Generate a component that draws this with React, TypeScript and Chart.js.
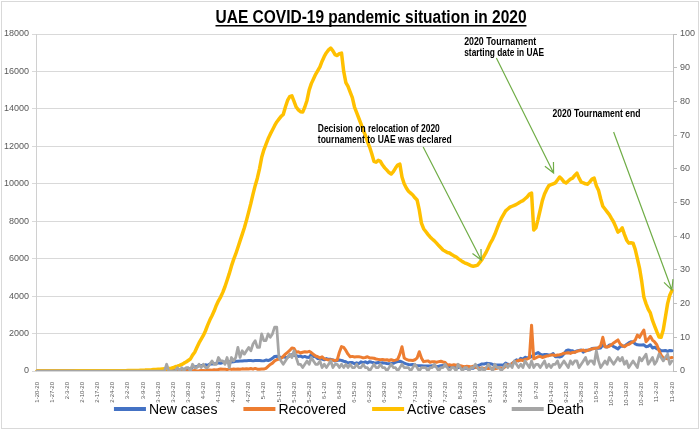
import React, { useEffect, useRef } from "react";
import { Chart, registerables } from "chart.js";

Chart.register(...registerables);

const TITLE = "UAE COVID-19 pandemic situation in 2020";
const SERIES_NAMES = ["New cases", "Recovered", "Active cases", "Death"];
const SERIES_COLORS = ["#4472C4", "#ED7D31", "#FFC000", "#A5A5A5"];

// daily categories, 1-20-20 .. 11-9-20
const START_DAY = [2020, 0, 20];
const DAY_COUNT = 295;
const categories: string[] = [];
for (let i = 0; i < DAY_COUNT; i++) {
  const d = new Date(START_DAY[0], START_DAY[1], START_DAY[2] + i);
  categories.push(`${d.getMonth() + 1}-${d.getDate()}-20`);
}

const newCases = [
  0, 0, 0, 0, 0, 0, 0, 0, 0, 4,
  0, 0, 0, 1, 0, 0, 0, 0, 2, 0,
  0, 1, 0, 0, 0, 0, 0, 0, 0, 0,
  0, 0, 0, 0, 0, 4, 1, 0, 0, 4,
  0, 2, 2, 0, 6, 0, 2, 1, 15, 0,
  5, 10, 0, 11, 15, 0, 13, 15, 15, 27,
  27, 13, 45, 45, 50, 85, 50, 72, 102, 100,
  150, 53, 240, 210, 241, 277, 300, 283, 331, 300,
  370, 376, 387, 398, 432, 412, 445, 479, 484, 490,
  477, 490, 518, 525, 536, 539, 550, 552, 560, 557,
  540, 561, 557, 564, 550, 541, 584, 557, 602, 680,
  781, 783, 781, 698, 760, 725, 731, 812, 873, 832,
  822, 779, 796, 741, 779, 730, 724, 883, 779, 760,
  660, 685, 638, 596, 661, 624, 623, 594, 528, 563,
  582, 568, 521, 492, 430, 458, 451, 392, 440, 388,
  490, 450, 489, 430, 500, 470, 445, 432, 454, 430,
  440, 420, 399, 389, 397, 410, 470, 500, 520, 480,
  420, 380, 350, 333, 350, 303, 277, 285, 282, 265,
  270, 266, 264, 275, 271, 237, 254, 282, 292, 282,
  230, 254, 219, 209, 179, 180, 220, 150, 152, 140,
  145, 160, 150, 220, 283, 321, 379, 375, 410, 400,
  390, 350, 325, 320, 320, 315, 310, 420, 360, 330,
  400, 500, 595, 540, 680, 630, 735, 692, 735, 760,
  883, 930, 985, 900, 850, 880, 880, 850, 870, 930,
  760, 770, 750, 780, 920, 1080, 1120, 1100, 1083, 1007,
  1076, 1100, 1120, 1005, 1105, 1110, 1115, 1200, 1210, 1220,
  1210, 1230, 1390, 1300, 1280, 1390, 1400, 1300, 1250, 1180,
  1300, 1340, 1320, 1420, 1500, 1560, 1550, 1450, 1400, 1390,
  1390, 1400, 1300, 1320, 1400, 1230, 1270, 1190, 1160, 1080,
  1080, 1100, 1050, 1100, 1080,
];

const recovered = [
  0, 0, 0, 0, 0, 0, 0, 0, 0, 0,
  0, 0, 0, 0, 0, 0, 0, 0, 0, 0,
  0, 0, 1, 0, 0, 0, 0, 1, 0, 0,
  0, 0, 0, 0, 0, 0, 0, 0, 0, 0,
  0, 0, 0, 0, 0, 2, 0, 0, 0, 0,
  0, 0, 2, 0, 5, 0, 0, 0, 3, 0,
  0, 2, 3, 7, 0, 5, 0, 3, 5, 14,
  0, 3, 15, 30, 0, 10, 25, 32, 15, 38,
  50, 39, 64, 52, 78, 110, 89, 100, 67, 120,
  86, 107, 99, 109, 90, 114, 105, 120, 110, 130,
  100, 140, 95, 90, 112, 110, 140, 250, 350, 420,
  540, 600, 640, 680, 780, 900, 1000, 1100, 1230, 1200,
  1000, 1030, 960, 1000, 1030, 1010, 1050, 980, 890, 800,
  760, 700, 760, 650, 620, 590, 600, 580, 560, 590,
  1000, 1300, 1260, 1100, 900, 760, 780, 750, 760, 760,
  740, 700, 720, 760, 700, 690, 680, 640, 620, 600,
  620, 590, 600, 560, 600, 560, 580, 620, 900, 1300,
  700, 620, 580, 570, 560, 600, 700, 1030, 700, 500,
  520, 540, 470, 500, 490, 470, 500, 520, 480, 450,
  320, 330, 300, 340, 310, 330, 280, 250, 230, 250,
  240, 220, 260, 200, 170, 140, 160, 140, 150, 130,
  140, 150, 120, 140, 180, 150, 160, 250, 330, 300,
  400, 480, 530, 560, 590, 560, 620, 640, 700, 2450,
  650, 700, 760, 780, 720, 760, 800, 820, 850, 860,
  830, 850, 870, 900, 950, 960, 980, 940, 990, 1000,
  1050, 1080, 1100, 1120, 1060, 1100, 1150, 1180, 1200, 1210,
  1250, 1350, 1800, 1300, 1280, 1320, 1400, 1500, 1580, 1660,
  1450, 1350, 1300, 1380, 1420, 1500, 1550, 1650, 1920, 1800,
  2000, 2190, 1560, 1700, 1850, 1650, 1550, 1400, 1100, 850,
  700, 680, 650, 700, 720,
];

const activeCases = [
  0, 0, 0, 0, 0, 0, 0, 0, 0, 4,
  4, 4, 4, 5, 5, 5, 5, 5, 7, 7,
  7, 7, 8, 8, 8, 8, 8, 8, 8, 8,
  9, 9, 9, 9, 9, 12, 13, 13, 13, 17,
  17, 19, 21, 21, 27, 27, 29, 30, 45, 45,
  50, 60, 60, 70, 85, 85, 90, 95, 110, 115,
  120, 140, 150, 170, 230, 260, 300, 350, 420, 480,
  560, 640, 850, 1000, 1250, 1500, 1700, 1900, 2150, 2450,
  2720, 2950, 3200, 3500, 3750, 3950, 4200, 4500, 4850, 5200,
  5600, 5950, 6250, 6600, 6950, 7300, 7650, 8060, 8500, 8950,
  9450, 9900, 10300, 10800, 11400, 11800, 12100, 12400, 12650, 12870,
  13100, 13300, 13450, 13600, 13700, 14100, 14450, 14650, 14700, 14400,
  14100, 13950, 13850, 13830, 14100, 14450, 15000, 15350, 15600, 15850,
  16050, 16250, 16550, 16800, 17000, 17150, 17250, 17100, 16900, 16850,
  16950, 16980, 16000, 15400, 15200, 14900, 14600, 14100, 13800, 13500,
  13200, 12870, 12600, 12250, 11960, 11600, 11200, 11150, 11250, 11200,
  11000, 10850, 10730, 10600, 10520, 10650, 10840, 11000, 11050, 10360,
  10000, 9770, 9600, 9500, 9400, 9250, 9130, 8600, 7900, 7600,
  7450, 7300, 7160, 7050, 6950, 6830, 6700, 6580, 6460, 6400,
  6330, 6300, 6220, 6150, 6100, 6000, 5920, 5840, 5780, 5730,
  5680, 5620, 5600, 5620, 5660, 5800, 5950, 6150, 6350, 6600,
  6850, 7050, 7300, 7600, 7900, 8150, 8350, 8550, 8650, 8750,
  8800, 8850, 8900, 8970, 9050, 9100, 9200, 9300, 9450, 9500,
  7530, 7650, 8100, 8600, 9100, 9450, 9700, 9900, 9950, 10000,
  10050, 10200, 10360, 10250, 10100, 10040, 10150, 10250, 10300, 10450,
  10570, 10300, 10090, 10050, 10000, 9980, 10100, 10250, 10300, 9900,
  9660, 9200, 8800, 8650, 8500, 8350, 8150, 7960, 7700, 7420,
  7500, 7640, 7300, 7000, 6830, 6850, 6830, 6500, 6000, 5500,
  4800, 3950, 3600, 3300, 3100, 2700, 2400, 2100, 1820, 1800,
  2200, 2900, 3600, 4050, 4300,
];

const deaths = [
  0, 0, 0, 0, 0, 0, 0, 0, 0, 0,
  0, 0, 0, 0, 0, 0, 0, 0, 0, 0,
  0, 0, 0, 0, 0, 0, 0, 0, 0, 0,
  0, 0, 0, 0, 0, 0, 0, 0, 0, 0,
  0, 0, 0, 0, 0, 0, 0, 0, 0, 0,
  0, 0, 0, 0, 0, 0, 0, 0, 0, 0,
  2, 0, 0, 0, 0, 1, 0, 1, 0, 1,
  1, 0, 2, 1, 1, 2, 1, 2, 1, 1,
  2, 3, 2, 2, 4, 3, 3, 2, 4, 1,
  4, 3, 4, 7, 4, 6, 5, 6, 7, 6,
  8, 9, 7, 7, 11, 9, 9, 11, 10, 11,
  13, 13, 4, 3, 2, 3, 4, 5, 4, 6,
  4, 2, 2, 1, 2, 3, 2, 4, 3, 2,
  2, 3, 1, 2, 1, 2, 3, 1, 2, 2,
  1, 2, 1, 2, 1, 2, 1, 1, 2, 1,
  1, 2, 1, 1, 0, 1, 2, 1, 1, 2,
  1, 1, 0, 1, 2, 1, 1, 0, 1, 2,
  1, 1, 1, 0, 1, 2, 1, 0, 1, 1,
  1, 0, 1, 1, 2, 1, 0, 1, 1, 2,
  1, 0, 1, 1, 0, 2, 1, 0, 1, 1,
  0, 1, 1, 2, 1, 0, 1, 0, 1, 2,
  1, 0, 2, 1, 1, 0, 1, 2, 1, 2,
  1, 3, 2, 1, 2, 1, 3, 2, 1, 3,
  1, 2, 2, 1, 2, 3, 1, 2, 1, 2,
  2, 3, 1, 2, 3, 2, 1, 3, 2, 3,
  3, 1, 2, 3, 4, 2, 3, 3, 2, 6,
  3, 1, 2, 3, 2, 4, 3, 2, 3, 4,
  3, 4, 2, 3, 1, 2, 3, 2, 1, 4,
  3, 4, 5, 2, 3, 4, 2, 3, 5, 4,
  3, 4, 5, 2, 3,
];

// annotations in data coordinates (category index, left-axis value)
const annotations = [
  {
    lines: ["Decision on relocation of 2020", "tournament to UAE was declared"],
    widths: [122, 134],
    textAt: [130, 12923],
    from: [178.8, 11962],
    to: [205.7, 5927],
  },
  {
    lines: ["2020 Tournament", "starting date in UAE"],
    widths: [72, 80],
    textAt: [197.8, 17569],
    from: [212.7, 16714],
    to: [239.2, 10573],
  },
  {
    lines: ["2020 Tournament end"],
    widths: [88],
    textAt: [238.7, 13724],
    from: [267.0, 12763],
    to: [294.0, 4325],
  },
];

const FONT = "'Liberation Sans', Arial, sans-serif";

const overlayPlugin = {
  id: "overlay",
  beforeDraw(chart: any) {
    const { ctx, width, height } = chart;
    ctx.save();
    ctx.fillStyle = "#ffffff";
    ctx.fillRect(0, 0, width, height);
    ctx.restore();
  },
  afterDraw(chart: any) {
    const { ctx } = chart;
    const xs = chart.scales.x;
    const ys = chart.scales.y;
    ctx.save();
    // outer border
    ctx.strokeStyle = "#D9D9D9";
    ctx.lineWidth = 1;
    ctx.strokeRect(1.5, 1.5, 697, 427);

    // title
    ctx.fillStyle = "#000000";
    ctx.font = `bold 18px ${FONT}`;
    ctx.textAlign = "center";
    ctx.textBaseline = "alphabetic";
    const titleW = 311;
    const tcx = 371;
    ctx.fillText(TITLE, tcx, 23, titleW);
    ctx.fillRect(tcx - titleW / 2, 25, titleW, 1.5);

    // annotations
    ctx.textAlign = "left";
    ctx.textBaseline = "middle";
    ctx.font = `bold 10px ${FONT}`;
    for (const a of annotations) {
      const tx = xs.getPixelForValue(a.textAt[0]);
      const ty = ys.getPixelForValue(a.textAt[1]);
      ctx.fillStyle = "#000000";
      a.lines.forEach((ln, k) => {
        ctx.fillText(ln, tx, ty + k * 11.5, a.widths[k]);
      });
      const x1 = xs.getPixelForValue(a.from[0]);
      const y1 = ys.getPixelForValue(a.from[1]);
      const x2 = xs.getPixelForValue(a.to[0]);
      const y2 = ys.getPixelForValue(a.to[1]);
      ctx.strokeStyle = "#70AD47";
      ctx.lineWidth = 1.2;
      ctx.beginPath();
      ctx.moveTo(x1, y1);
      ctx.lineTo(x2, y2);
      const ang = Math.atan2(y2 - y1, x2 - x1);
      const hl = 11;
      const spread = 0.45;
      ctx.moveTo(x2 - hl * Math.cos(ang - spread), y2 - hl * Math.sin(ang - spread));
      ctx.lineTo(x2, y2);
      ctx.lineTo(x2 - hl * Math.cos(ang + spread), y2 - hl * Math.sin(ang + spread));
      ctx.stroke();
    }

    // legend
    ctx.font = `14px ${FONT}`;
    ctx.textBaseline = "middle";
    const lineLen = 32;
    const gapLT = 3;
    const gapItem = 26;
    const ds = chart.data.datasets;
    const widths = ds.map((d: any) => ctx.measureText(d.label).width);
    const total =
      widths.reduce((s: number, w: number) => s + w + lineLen + gapLT, 0) +
      gapItem * (ds.length - 1);
    let lx = 349 - total / 2;
    const ly = 409;
    ds.forEach((d: any, k: number) => {
      ctx.strokeStyle = d.borderColor;
      ctx.lineWidth = 4;
      ctx.lineCap = "butt";
      ctx.beginPath();
      ctx.moveTo(lx, ly);
      ctx.lineTo(lx + lineLen, ly);
      ctx.stroke();
      ctx.fillStyle = "#000000";
      ctx.fillText(d.label, lx + lineLen + gapLT, ly + 1);
      lx += lineLen + gapLT + widths[k] + gapItem;
    });
    ctx.restore();
  },
};

export default function App() {
  const ref = useRef<HTMLCanvasElement | null>(null);
  useEffect(() => {
    if (!ref.current) return;
    const seriesData = [newCases, recovered, activeCases, deaths];
    const chart = new Chart(ref.current, {
      type: "line",
      data: {
        labels: categories,
        datasets: SERIES_NAMES.map((name, k) => ({
          label: name,
          data: seriesData[k],
          borderColor: SERIES_COLORS[k],
          backgroundColor: SERIES_COLORS[k],
          borderWidth: k === 2 ? 3.5 : k === 3 ? 2.75 : 3,
          pointRadius: 0,
          tension: 0,
          borderJoinStyle: "round",
          borderCapStyle: "round",
          fill: false,
          yAxisID: k === 3 ? "y1" : "y",
          order: 4 - k,
        })),
      },
      options: {
        responsive: false,
        animation: false,
        devicePixelRatio: 1,
        layout: { padding: { top: 34, left: 0, right: 0, bottom: 0 } },
        plugins: {
          legend: { display: false },
          tooltip: { enabled: false },
          title: { display: false },
        },
        scales: {
          x: {
            type: "category",
            offset: true,
            grid: { display: false },
            border: { display: true, color: "#D9D9D9" },
            ticks: {
              autoSkip: false,
              minRotation: 90,
              maxRotation: 90,
              padding: 3,
              color: "#595959",
              font: { family: FONT, size: 6 },
            },
            afterBuildTicks: (scale: any) => {
              scale.ticks = scale.ticks.filter((_t: any, i: number) => i % 7 === 0);
            },
            afterFit: (scale: any) => {
              scale.height = 60;
            },
          },
          y: {
            position: "left",
            min: 0,
            max: 18000,
            ticks: {
              stepSize: 2000,
              color: "#595959",
              padding: 3,
              font: { family: FONT, size: 9 },
              callback: (v: any) => String(v),
            },
            grid: { color: "#D9D9D9", tickLength: 4 },
            border: { display: true, color: "#D0D0D0" },
            afterFit: (scale: any) => {
              scale.width = 36;
            },
          },
          y1: {
            position: "right",
            min: 0,
            max: 100,
            ticks: {
              stepSize: 10,
              color: "#595959",
              padding: 3,
              font: { family: FONT, size: 9 },
              callback: (v: any) => String(v),
            },
            grid: { drawOnChartArea: false, color: "#BFBFBF", tickLength: 4 },
            border: { display: true, color: "#BFBFBF" },
            afterFit: (scale: any) => {
              scale.width = 27;
            },
          },
        },
      },
      plugins: [overlayPlugin],
    });
    return () => chart.destroy();
  }, []);

  return (
    <div style={{ position: "absolute", left: 0, top: 0, width: 700, height: 431, background: "#fff" }}>
      <canvas ref={ref} width={700} height={431} style={{ display: "block" }} />
    </div>
  );
}
